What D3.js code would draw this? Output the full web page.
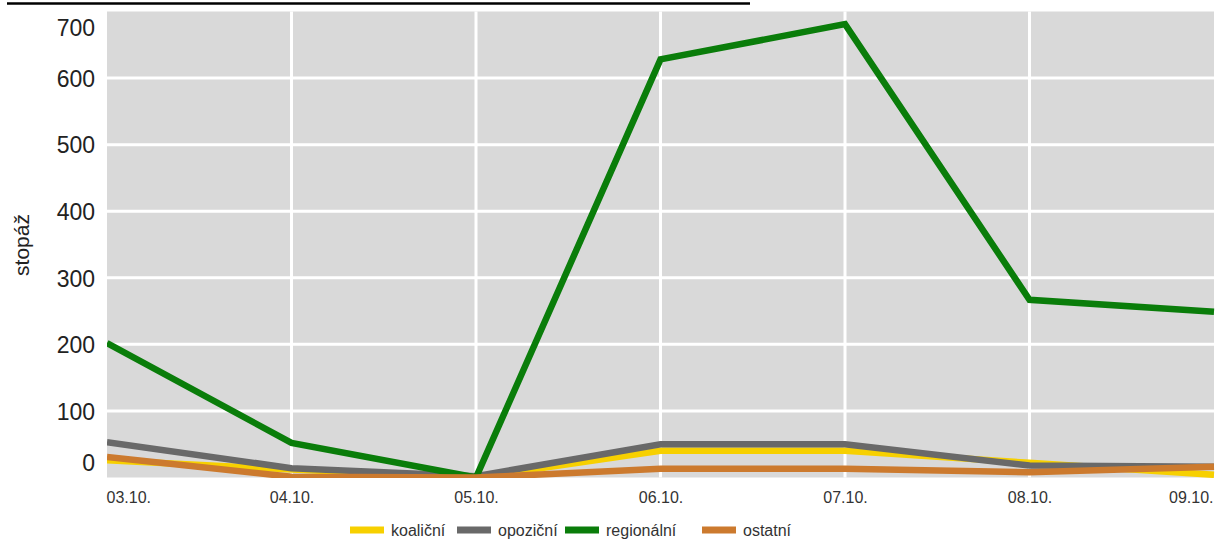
<!DOCTYPE html>
<html>
<head>
<meta charset="utf-8">
<script src="https://cdn.jsdelivr.net/npm/d3@7"></script>
<style>
  html, body { margin: 0; padding: 0; background: #fff; }
  svg { display: block; }
  text { font-family: "Liberation Sans", Arial, sans-serif; fill: #333; }
</style>
</head>
<body>
<svg id="chart" width="1224" height="543"></svg>
<script>
// ---- data ----
const dates = ["03.10.", "04.10.", "05.10.", "06.10.", "07.10.", "08.10.", "09.10."];
const koalicni = [26, 12, 0, 40, 40, 22, 4];
const opozicni = [53, 14, 2, 50, 50, 18, 16];
const regionalni = [202, 52, 0, 628, 681, 267, 249];
const ostatni = [31, 1, 0, 13, 13, 8, 16];
const yTicks = [0, 100, 200, 300, 400, 500, 600, 700];
const seriesNames = ["koaliční", "opoziční", "regionální", "ostatní"];
const seriesColors = ["#f7d000", "#696969", "#0a7d0a", "#cc7a2e"];
const yLabel = "stopáž";

const series = [
  { name: seriesNames[0], values: koalicni, color: seriesColors[0] },
  { name: seriesNames[1], values: opozicni, color: seriesColors[1] },
  { name: seriesNames[2], values: regionalni, color: seriesColors[2] },
  { name: seriesNames[3], values: ostatni, color: seriesColors[3] }
];

// ---- layout ----
const svg = d3.select("#chart");
const L = 107, R = 1214, T = 11.5, B = 477.5;

const x = d3.scalePoint().domain(dates).range([L, R]).padding(0);
const y = d3.scaleLinear().domain([0, 700]).range([B, T]);

// top rule
svg.append("line").attr("x1", 7).attr("x2", 750).attr("y1", 3.5).attr("y2", 3.5)
  .attr("stroke", "#000").attr("stroke-width", 2.5);

// plot background
svg.append("rect").attr("x", L).attr("y", T).attr("width", R - L).attr("height", B - T)
  .attr("fill", "#d9d9d9");

// grid
svg.append("g").selectAll("line").data(yTicks.filter(d => d > 0 && d < 700)).join("line")
  .attr("x1", L).attr("x2", R).attr("y1", d => y(d)).attr("y2", d => y(d))
  .attr("stroke", "#fff").attr("stroke-width", 3);
svg.append("g").selectAll("line").data(dates.slice(1, -1)).join("line")
  .attr("x1", d => x(d)).attr("x2", d => x(d)).attr("y1", T).attr("y2", B)
  .attr("stroke", "#fff").attr("stroke-width", 3);

// y axis labels (kept inside plot range)
const yAxis = d3.axisLeft(y).tickValues(yTicks).tickSize(0).tickPadding(12);
const gy = svg.append("g").attr("transform", `translate(${L},0)`).call(yAxis);
gy.select(".domain").remove();
gy.selectAll("text")
  .style("font-size", "23px").style("fill", "#222")
  .attr("font-family", null)
  .attr("dy", d => d === 700 ? "1.05em" : d === 0 ? "-0.3em" : "0.36em");

// y title
svg.append("text").attr("transform", "translate(29,245) rotate(-90)")
  .attr("text-anchor", "middle").style("font-size", "21px").style("fill", "#222")
  .text(yLabel);

// x axis labels
const xAxis = d3.axisBottom(x).tickSize(0).tickPadding(14);
const gx = svg.append("g").attr("transform", `translate(0,${B})`).call(xAxis);
gx.select(".domain").remove();
gx.selectAll("text")
  .style("font-size", "16px").style("fill", "#333")
  .attr("font-family", null)
  .attr("text-anchor", (d, i) => i === 0 ? "start" : i === dates.length - 1 ? "end" : "middle")
  .attr("dx", (d, i) => i === 0 ? "-1" : i === dates.length - 1 ? "-1" : "0");

// clip
svg.append("clipPath").attr("id", "clip").append("rect")
  .attr("x", L).attr("y", T - 5).attr("width", R - L + 2).attr("height", B - T + 5.5);

const line = d3.line().x((d, i) => x(dates[i])).y(d => y(d));
svg.append("g").attr("clip-path", "url(#clip)").selectAll("path").data(series).join("path")
  .attr("d", d => line(d.values))
  .attr("fill", "none").attr("stroke", d => d.color).attr("stroke-width", 6.5)
  .attr("stroke-linejoin", "miter");

// legend
const legendItems = [
  { x: 350 }, { x: 457 }, { x: 565 }, { x: 702 }
];
const lg = svg.append("g");
series.forEach((s, i) => {
  const g = lg.append("g").attr("transform", `translate(${legendItems[i].x},530)`);
  g.append("rect").attr("x", 0).attr("y", -3.5).attr("width", 34).attr("height", 7).attr("fill", s.color);
  g.append("text").attr("x", 41).attr("y", 0).attr("dy", "0.35em")
    .style("font-size", "16px").style("fill", "#333").text(s.name);
});
</script>
</body>
</html>
